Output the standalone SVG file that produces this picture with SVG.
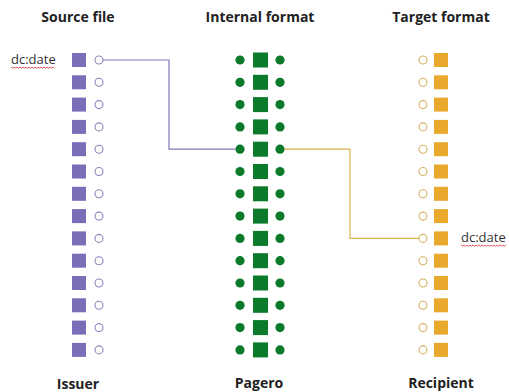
<svg xmlns="http://www.w3.org/2000/svg" xmlns:xlink="http://www.w3.org/1999/xlink" width="509" height="392" viewBox="0 0 509 392">
  <style>
    .title { font-family: "Open Sans", "Liberation Sans", sans-serif; font-weight: 700; font-size: 14px; fill: #222; text-anchor: middle; }
    .field { font-family: "Open Sans", "Liberation Sans", sans-serif; font-size: 13px; fill: #333; }
    .squiggle { fill: none; stroke: #e03030; stroke-width: 0.8; }
    .src-box { fill: #7b6db8; }
    .src-pin { fill: #fff; stroke: #8d85bd; stroke-width: 1.1; }
    .int-box { fill: #0b7a2a; }
    .int-pin { fill: #0b7a2a; }
    .tgt-box { fill: #e9a92d; }
    .tgt-pin { fill: #fff; stroke: #d6b160; stroke-width: 1.1; }
    .link-src { fill: none; stroke: #7f76b6; stroke-width: 1.2; }
    .link-tgt { fill: none; stroke: #dcb04a; stroke-width: 1.2; }
  </style>
  <defs>
    <!-- one slot of each format column, centred on y=0 -->
    <g id="src-slot">
      <rect class="src-box" x="72" y="-7" width="14" height="14"/>
      <circle class="src-pin" cx="99" cy="0" r="4"/>
    </g>
    <g id="int-slot">
      <circle class="int-pin" cx="240" cy="0" r="4.6"/>
      <rect class="int-box" x="253" y="-7.5" width="15" height="15"/>
      <circle class="int-pin" cx="280" cy="0" r="4.6"/>
    </g>
    <g id="tgt-slot">
      <circle class="tgt-pin" cx="423" cy="0" r="4"/>
      <rect class="tgt-box" x="434" y="-7" width="14" height="14"/>
    </g>
  </defs>

  <rect width="509" height="392" fill="#fff"/>

  <!-- column headings -->
  <g id="headings">
    <text class="title" x="78" y="22">Source file</text>
    <text class="title" x="260" y="22">Internal format</text>
    <text class="title" x="441" y="22">Target format</text>
  </g>

  <!-- source file fields -->
  <g id="source">
    <g id="src-1"><use xlink:href="#src-slot" transform="translate(0 60)"/></g>
    <g id="src-2"><use xlink:href="#src-slot" transform="translate(0 82.3)"/></g>
    <g id="src-3"><use xlink:href="#src-slot" transform="translate(0 104.6)"/></g>
    <g id="src-4"><use xlink:href="#src-slot" transform="translate(0 126.9)"/></g>
    <g id="src-5"><use xlink:href="#src-slot" transform="translate(0 149.2)"/></g>
    <g id="src-6"><use xlink:href="#src-slot" transform="translate(0 171.5)"/></g>
    <g id="src-7"><use xlink:href="#src-slot" transform="translate(0 193.8)"/></g>
    <g id="src-8"><use xlink:href="#src-slot" transform="translate(0 216.1)"/></g>
    <g id="src-9"><use xlink:href="#src-slot" transform="translate(0 238.4)"/></g>
    <g id="src-10"><use xlink:href="#src-slot" transform="translate(0 260.7)"/></g>
    <g id="src-11"><use xlink:href="#src-slot" transform="translate(0 283)"/></g>
    <g id="src-12"><use xlink:href="#src-slot" transform="translate(0 305.3)"/></g>
    <g id="src-13"><use xlink:href="#src-slot" transform="translate(0 327.6)"/></g>
    <g id="src-14"><use xlink:href="#src-slot" transform="translate(0 349.9)"/></g>
  </g>

  <!-- internal format fields -->
  <g id="internal">
    <g id="int-1"><use xlink:href="#int-slot" transform="translate(0 60)"/></g>
    <g id="int-2"><use xlink:href="#int-slot" transform="translate(0 82.3)"/></g>
    <g id="int-3"><use xlink:href="#int-slot" transform="translate(0 104.6)"/></g>
    <g id="int-4"><use xlink:href="#int-slot" transform="translate(0 126.9)"/></g>
    <g id="int-5"><use xlink:href="#int-slot" transform="translate(0 149.2)"/></g>
    <g id="int-6"><use xlink:href="#int-slot" transform="translate(0 171.5)"/></g>
    <g id="int-7"><use xlink:href="#int-slot" transform="translate(0 193.8)"/></g>
    <g id="int-8"><use xlink:href="#int-slot" transform="translate(0 216.1)"/></g>
    <g id="int-9"><use xlink:href="#int-slot" transform="translate(0 238.4)"/></g>
    <g id="int-10"><use xlink:href="#int-slot" transform="translate(0 260.7)"/></g>
    <g id="int-11"><use xlink:href="#int-slot" transform="translate(0 283)"/></g>
    <g id="int-12"><use xlink:href="#int-slot" transform="translate(0 305.3)"/></g>
    <g id="int-13"><use xlink:href="#int-slot" transform="translate(0 327.6)"/></g>
    <g id="int-14"><use xlink:href="#int-slot" transform="translate(0 349.9)"/></g>
  </g>

  <!-- target format fields -->
  <g id="target">
    <g id="tgt-1"><use xlink:href="#tgt-slot" transform="translate(0 60)"/></g>
    <g id="tgt-2"><use xlink:href="#tgt-slot" transform="translate(0 82.3)"/></g>
    <g id="tgt-3"><use xlink:href="#tgt-slot" transform="translate(0 104.6)"/></g>
    <g id="tgt-4"><use xlink:href="#tgt-slot" transform="translate(0 126.9)"/></g>
    <g id="tgt-5"><use xlink:href="#tgt-slot" transform="translate(0 149.2)"/></g>
    <g id="tgt-6"><use xlink:href="#tgt-slot" transform="translate(0 171.5)"/></g>
    <g id="tgt-7"><use xlink:href="#tgt-slot" transform="translate(0 193.8)"/></g>
    <g id="tgt-8"><use xlink:href="#tgt-slot" transform="translate(0 216.1)"/></g>
    <g id="tgt-9"><use xlink:href="#tgt-slot" transform="translate(0 238.4)"/></g>
    <g id="tgt-10"><use xlink:href="#tgt-slot" transform="translate(0 260.7)"/></g>
    <g id="tgt-11"><use xlink:href="#tgt-slot" transform="translate(0 283)"/></g>
    <g id="tgt-12"><use xlink:href="#tgt-slot" transform="translate(0 305.3)"/></g>
    <g id="tgt-13"><use xlink:href="#tgt-slot" transform="translate(0 327.6)"/></g>
    <g id="tgt-14"><use xlink:href="#tgt-slot" transform="translate(0 349.9)"/></g>
  </g>

  <!-- field labels with spell-check underline -->
  <g id="label-src">
    <text class="field" x="11" y="64">dc:date</text>
    <path class="squiggle" d="M11 67 l1.5 1.2 l1.5 -1.2 l1.5 1.2 l1.5 -1.2 l1.5 1.2 l1.5 -1.2 l1.5 1.2 l1.5 -1.2 l1.5 1.2 l1.5 -1.2 l1.5 1.2 l1.5 -1.2 l1.5 1.2 l1.5 -1.2 l1.5 1.2 l1.5 -1.2 l1.5 1.2 l1.5 -1.2 l1.5 1.2 l1.5 -1.2 l1.5 1.2 l1.5 -1.2 l1.5 1.2 l1.5 -1.2 l1.5 1.2 l1.5 -1.2 l1.5 1.2 l1.5 -1.2 l1.5 1.2"/>
  </g>
  <g id="label-tgt">
    <text class="field" x="461" y="242">dc:date</text>
    <path class="squiggle" d="M461 245 l1.5 1.2 l1.5 -1.2 l1.5 1.2 l1.5 -1.2 l1.5 1.2 l1.5 -1.2 l1.5 1.2 l1.5 -1.2 l1.5 1.2 l1.5 -1.2 l1.5 1.2 l1.5 -1.2 l1.5 1.2 l1.5 -1.2 l1.5 1.2 l1.5 -1.2 l1.5 1.2 l1.5 -1.2 l1.5 1.2 l1.5 -1.2 l1.5 1.2 l1.5 -1.2 l1.5 1.2 l1.5 -1.2 l1.5 1.2 l1.5 -1.2 l1.5 1.2 l1.5 -1.2 l1.5 1.2 l1.5 -1.2"/>
  </g>

  <!-- mapping connectors -->
  <g id="connectors">
    <path class="link-src" d="M103 60 H169 V149.2 H235.4"/>
    <path class="link-tgt" d="M284.6 149.2 H350 V238.4 H419"/>
  </g>

  <!-- party names -->
  <g id="parties">
    <text class="title" x="78" y="389">Issuer</text>
    <text class="title" x="259" y="388">Pagero</text>
    <text class="title" x="441" y="388">Recipient</text>
  </g>
</svg>
